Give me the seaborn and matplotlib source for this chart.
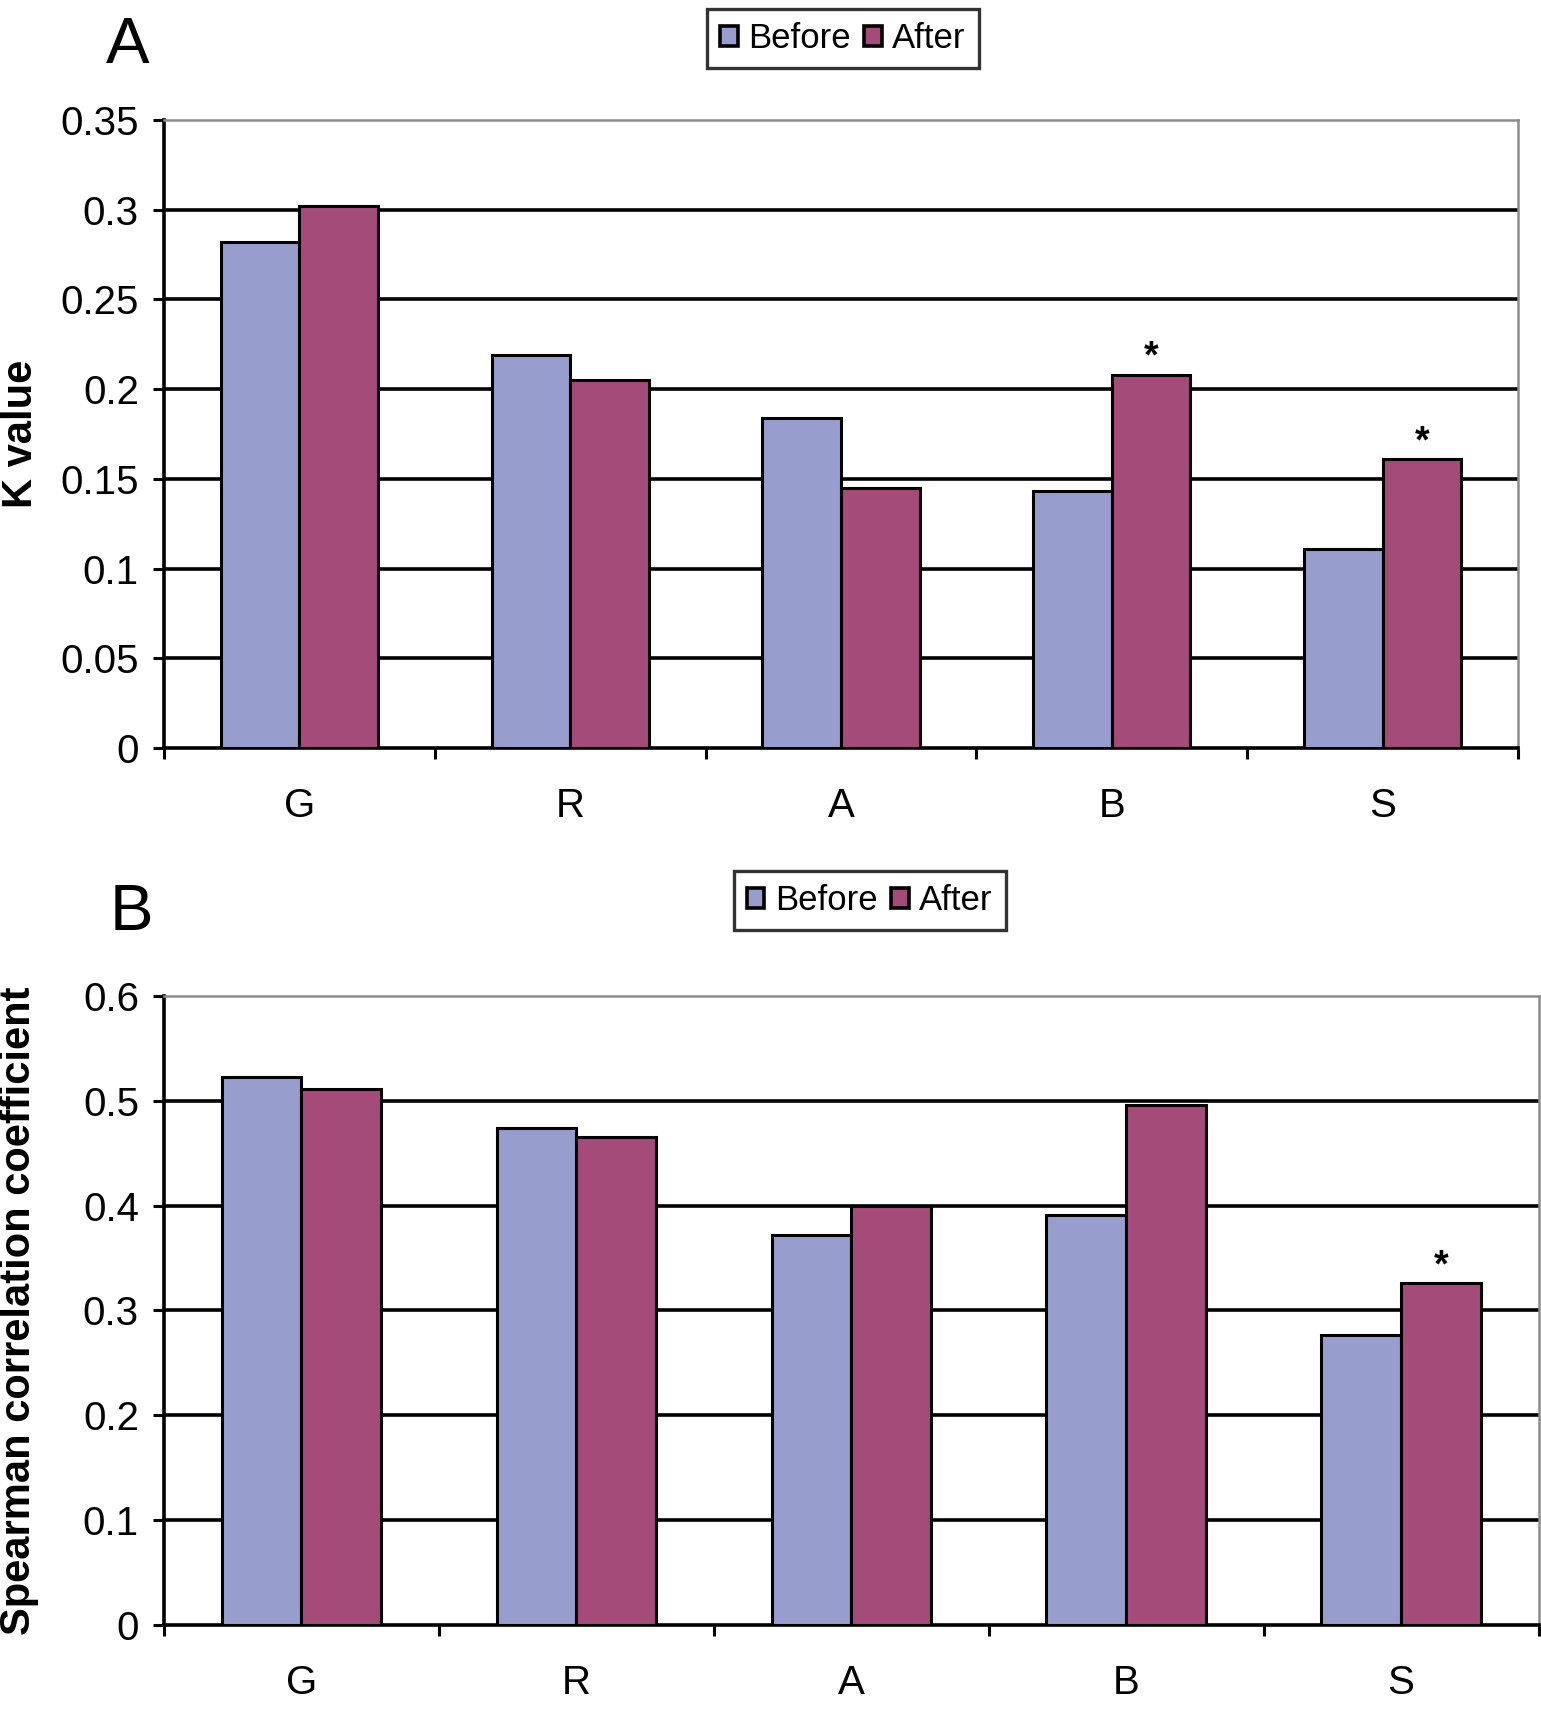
import pandas as pd
import seaborn as sns
import matplotlib.pyplot as plt
import matplotlib.patches as mpatches
from matplotlib.ticker import FixedLocator, FuncFormatter

sns.set_theme(style="white")
plt.rcParams["font.family"] = ["Liberation Sans", "DejaVu Sans"]
plt.rcParams["text.color"] = "black"
plt.rcParams["axes.labelcolor"] = "black"
plt.rcParams["xtick.color"] = "black"
plt.rcParams["ytick.color"] = "black"

categories = ["G", "R", "A", "B", "S"]
periods = ["Before", "After"]

k_before = [0.282, 0.219, 0.184, 0.143, 0.111]
k_after = [0.302, 0.205, 0.145, 0.208, 0.161]
k_signif = ["B", "S"]

sp_before = [0.523, 0.474, 0.372, 0.391, 0.277]
sp_after = [0.511, 0.465, 0.400, 0.496, 0.326]
sp_signif = ["S"]

colors = {"Before": "#979ECE", "After": "#A54B7A"}


def long_table(before, after):
    rows = []
    for c, b, a in zip(categories, before, after):
        rows.append({"cat": c, "period": "Before", "value": b})
        rows.append({"cat": c, "period": "After", "value": a})
    return pd.DataFrame(rows)


def draw_panel(ax, df, after, signif, ymax, step, ylabel):
    sns.barplot(data=df, x="cat", y="value", hue="period", hue_order=periods,
                palette=colors, width=0.58, edgecolor="black", linewidth=2.2,
                saturation=1, legend=False, ax=ax, zorder=3)
    ax.set_xlim(-0.5, 4.5)
    ax.set_ylim(0, ymax)
    yt = [round(i * step, 3) for i in range(int(round(ymax / step)) + 1)]
    ax.set_yticks(yt)
    ax.yaxis.set_major_formatter(FuncFormatter(lambda v, p: f"{v:g}"))
    for v in yt[1:-1]:
        ax.axhline(v, color="black", lw=2.6, zorder=1)
    ax.xaxis.set_major_locator(FixedLocator([i - 0.5 for i in range(6)]))
    ax.xaxis.set_minor_locator(FixedLocator(range(5)))
    ax.set_xticklabels([], minor=False)
    ax.set_xticklabels(categories, minor=True)
    ax.tick_params(axis="x", which="major", length=8, width=2.2, direction="out", color="black")
    ax.tick_params(axis="x", which="minor", length=0, pad=28, labelsize=29)
    ax.tick_params(axis="y", length=8, width=2.2, direction="out", color="black", pad=10, labelsize=29)
    ax.tick_params(left=True, bottom=True)
    for s in ["left", "bottom"]:
        ax.spines[s].set_color("black")
        ax.spines[s].set_linewidth(2.6)
    for s in ["top", "right"]:
        ax.spines[s].set_color("#8c8c8c")
        ax.spines[s].set_linewidth(1.8)
    ax.set_xlabel("")
    ax.set_ylabel(ylabel, fontsize=30, fontweight="bold")
    ax.yaxis.set_label_coords(-0.091, 0.5)
    for c in signif:
        i = categories.index(c)
        ax.annotate("*", xy=(i + 0.145, after[i]), xytext=(0, 5), textcoords="offset points",
                    ha="center", va="baseline", fontsize=27, fontweight="bold")


fig = plt.figure(figsize=(15.41, 17.13), dpi=100)
ax1 = fig.add_axes([0.1064, 0.5633, 0.8787, 0.3667])
ax2 = fig.add_axes([0.1064, 0.0514, 0.8920, 0.3672])

draw_panel(ax1, long_table(k_before, k_after), k_after, k_signif, 0.35, 0.05, "K value")
draw_panel(ax2, long_table(sp_before, sp_after), sp_after, sp_signif, 0.6, 0.1,
           "Spearman correlation coefficient")

handles = [mpatches.Patch(facecolor=colors[p], edgecolor="black", linewidth=2.6, label=p) for p in periods]
for anchor in [(0.547, 0.9947), (0.5645, 0.4915)]:
    leg = fig.legend(handles=handles, loc="upper center", bbox_to_anchor=anchor, ncol=2,
                     fontsize=25, frameon=True, fancybox=False, handlelength=0.5,
                     handleheight=0.5, handletextpad=0.3, columnspacing=0.4,
                     borderpad=0.38, borderaxespad=0)
    leg.get_frame().set_edgecolor("black")
    leg.get_frame().set_linewidth(2.4)

fig.text(0.069, 0.963, "A", fontsize=47, ha="left", va="baseline")
fig.text(0.071, 0.457, "B", fontsize=47, ha="left", va="baseline")

fig.savefig("out.png", dpi=100)
